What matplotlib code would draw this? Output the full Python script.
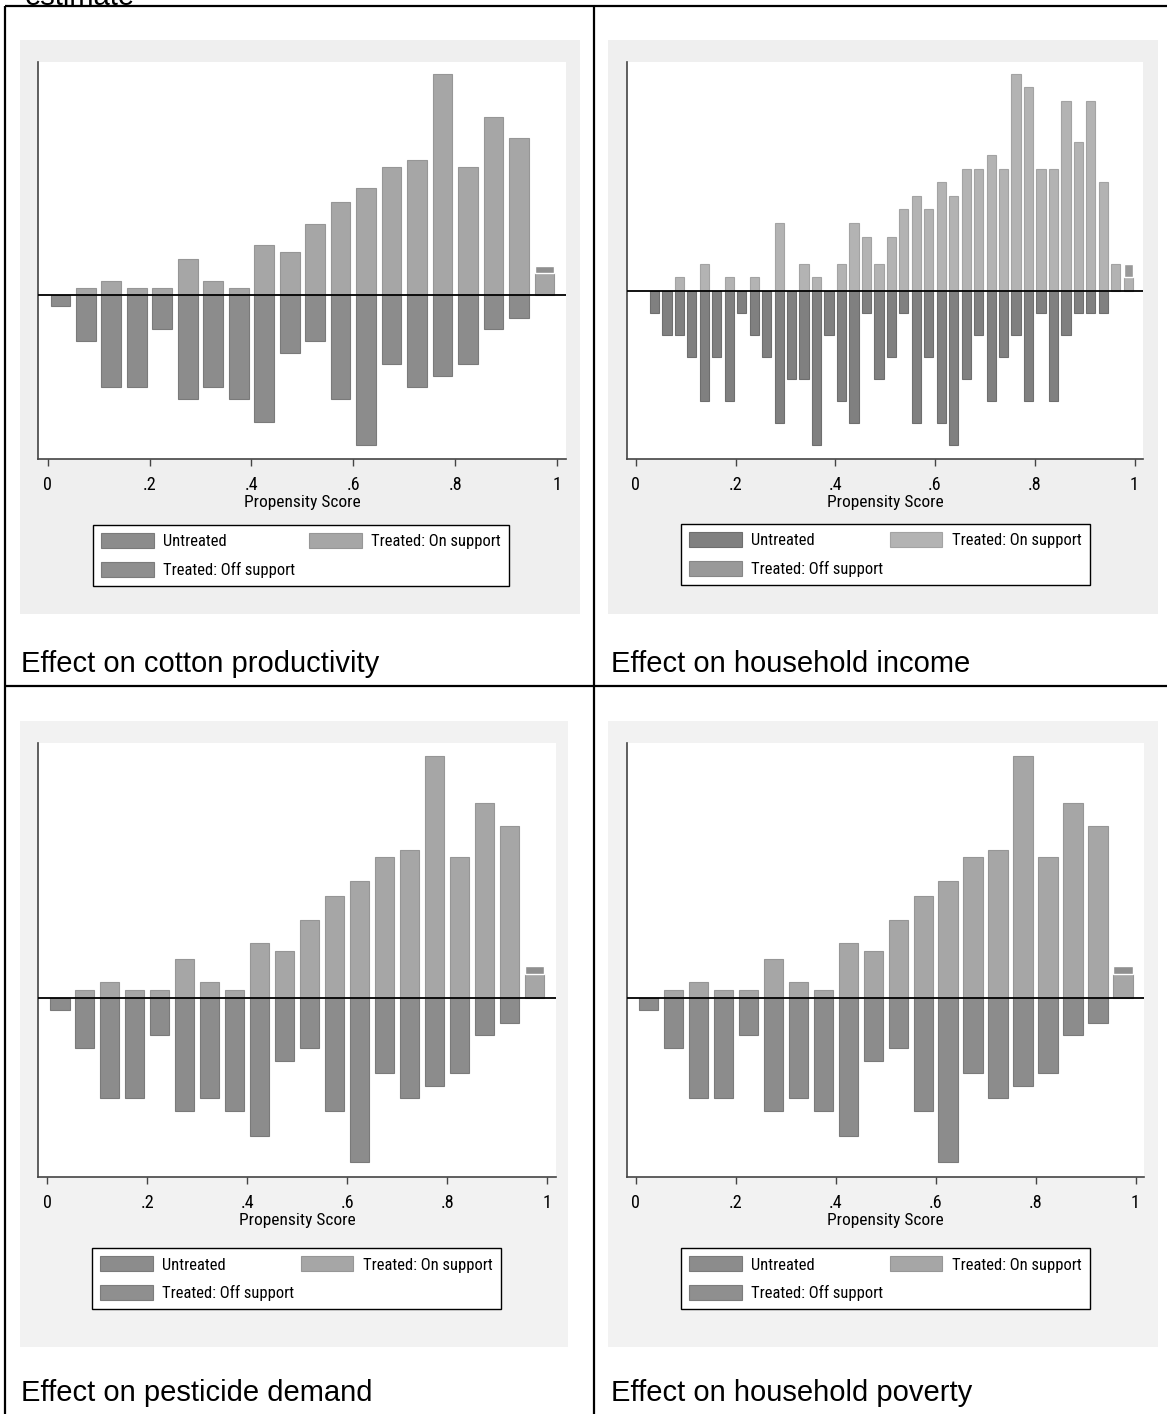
import os
import numpy as np
import matplotlib
matplotlib.use("Agg")
import matplotlib.pyplot as plt
import matplotlib.font_manager as fm
from matplotlib.font_manager import FontProperties
from matplotlib.textpath import TextPath
from matplotlib.patches import Rectangle, Patch
from matplotlib.lines import Line2D

# ---------------- data (counts per propensity-score bin) ----------------
# 20 bins of width 0.05 (cotton productivity, pesticide demand, household poverty)
cotton_untreated = [1, 4, 8, 8, 3, 9, 8, 9, 11, 5, 4, 9, 13, 6, 8, 7, 6, 3, 2, 0]
cotton_treated_on = [0, 1, 2, 1, 1, 5, 2, 1, 7, 6, 10, 13, 15, 18, 19, 31, 18, 25, 22, 3]
cotton_treated_off = [0] * 19 + [1]

pesticide_untreated = [1, 4, 8, 8, 3, 9, 8, 9, 11, 5, 4, 9, 13, 6, 8, 7, 6, 3, 2, 0]
pesticide_treated_on = [0, 1, 2, 1, 1, 5, 2, 1, 7, 6, 10, 13, 15, 18, 19, 31, 18, 25, 22, 3]
pesticide_treated_off = [0] * 19 + [1]

poverty_untreated = [1, 4, 8, 8, 3, 9, 8, 9, 11, 5, 4, 9, 13, 6, 8, 7, 6, 3, 2, 0]
poverty_treated_on = [0, 1, 2, 1, 1, 5, 2, 1, 7, 6, 10, 13, 15, 18, 19, 31, 18, 25, 22, 3]
poverty_treated_off = [0] * 19 + [1]

# 40 bins of width 0.025 (household income)
income_untreated = [0, 1, 2, 2, 3, 5, 3, 5, 1, 2,
                    3, 6, 4, 4, 7, 2, 5, 6, 1, 4,
                    3, 1, 6, 3, 6, 7, 4, 2, 5, 3,
                    2, 5, 1, 5, 2, 1, 1, 1, 0, 0]
income_treated_on = [0, 0, 0, 1, 0, 2, 0, 1, 0, 1,
                     0, 5, 0, 2, 1, 0, 2, 5, 4, 2,
                     4, 6, 7, 6, 8, 7, 9, 9, 10, 9,
                     16, 15, 9, 9, 14, 11, 14, 8, 2, 1]
income_treated_off = [0] * 39 + [1]

tick_values = [0, 0.2, 0.4, 0.6, 0.8, 1.0]
tick_labels = ["0", ".2", ".4", ".6", ".8", "1"]
legend_labels = ["Untreated", "Treated: Off support", "Treated: On support"]
captions = ["Effect on cotton productivity", "Effect on household income",
            "Effect on pesticide demand", "Effect on household poverty"]

# ---------------- fonts ----------------
def pick_narrow():
    cands = []
    bad = ["bold", "italic", "oblique", "light", "thin", "medium", "black",
           "extra", "ultra", "heavy", "mono", "serif"]
    for f in fm.fontManager.ttflist:
        base = os.path.basename(f.fname).lower()
        tag = base + " " + f.name.lower()
        if not ("narrow" in tag or "condensed" in tag or
                f.stretch in ("condensed", "semi-condensed")):
            continue
        if any(b in base for b in bad):
            continue
        if f.style != "normal":
            continue
        if f.weight not in (400, "normal", "regular", "book"):
            continue
        if "liberation" in tag or "arial" in tag:
            rank = 0
        elif "roboto" in tag:
            rank = 1
        elif "noto" in tag:
            rank = 2
        elif "open" in tag:
            rank = 3
        elif "dejavu" in tag:
            rank = 4
        else:
            rank = 5
        if "semi" in tag:
            rank += 0.5
        cands.append((rank, f.fname))
    cands.sort()
    return cands[0][1] if cands else None


W, H = 1167, 1414
DPI = 100
fig = plt.figure(figsize=(W / DPI, H / DPI), dpi=DPI)
fig.patch.set_facecolor("white")

_nf = pick_narrow()
fp_base = FontProperties(fname=_nf) if _nf else FontProperties(family=["Liberation Sans", "DejaVu Sans"])
_renderer = fig.canvas.get_renderer()
_t = fig.text(0, 0, "Propensity Score", fontproperties=fp_base, fontsize=13)
_w = _t.get_window_extent(_renderer).width
_t.remove()
size_w = min(13.5, 13.0 * 110.0 / _w)          # fit the reference text widths
_p = fp_base.copy()
_p.set_size(100)
_dh = TextPath((0, 0), "0", prop=_p).get_extents().height / 100.0   # digit height / em
size_h = min(14.0, 13.3 * 72.0 / DPI / _dh)      # fit the reference digit height
size_lab = min(13.5, (size_w * size_h) ** 0.5)

fp_leg = fp_base.copy()
fp_leg.set_size(size_w)
fp_tick = fp_base.copy()
fp_tick.set_size(size_h)
fp_lab = fp_base.copy()
fp_lab.set_size(size_lab)
leg_px = size_w * DPI / 72.0

REG = ["Liberation Sans", "DejaVu Sans"]
CAP_SIZE = 21


def fx(x):
    return x / W


def fy(y):
    return 1 - y / H


def panel(untreated, on, off, axes_px, grey_px, grey_col, leg_box, cap_px, caption,
          colors, edges_c, barfrac):
    cu, con, coff = colors
    eu, eon, eoff = edges_c
    gx0, gy0, gx1, gy1 = grey_px
    fig.patches.append(Rectangle((fx(gx0), fy(gy1)), (gx1 - gx0) / W, (gy1 - gy0) / H,
                                 transform=fig.transFigure, facecolor=grey_col,
                                 edgecolor="none", zorder=-5))
    x0, y0, x1, y1 = axes_px
    ax = fig.add_axes([fx(x0), fy(y1), (x1 - x0) / W, (y1 - y0) / H])
    ax.set_facecolor("white")

    u = np.array(untreated, float)
    t_on = np.array(on, float)
    t_off = np.array(off, float)
    nb = len(u)
    bw = 1.0 / nb
    edges = np.linspace(0, 1, nb + 1)
    centers = edges[:-1] + bw / 2
    du = u / (u.sum() * bw)
    n_t = t_on.sum() + t_off.sum()
    don = t_on / (n_t * bw)
    doff = t_off / (n_t * bw)

    m = du > 0
    ax.bar(centers[m], -du[m], width=bw * barfrac, color=cu, edgecolor=eu,
           linewidth=0.8, zorder=2)
    m = don > 0
    ax.bar(centers[m], don[m], width=bw * barfrac, color=con, edgecolor=eon,
           linewidth=0.8, zorder=2)
    m = doff > 0
    ax.bar(centers[m], doff[m], bottom=don[m], width=bw * barfrac, color=coff,
           edgecolor="white", linewidth=1.0, zorder=2)
    ax.axhline(0, color="black", lw=1.3, zorder=3)

    ax.set_xlim(-0.018, 1.017)
    ax.set_ylim(-1.096 * du.max(), 1.056 * (don + doff).max())
    ax.set_yticks([])
    ax.set_xticks(tick_values)
    ax.set_xticklabels(tick_labels, fontproperties=fp_tick)
    ax.tick_params(axis="x", length=5, width=1, color="#444444", pad=7)
    for s in ("top", "right"):
        ax.spines[s].set_visible(False)
    for s in ("left", "bottom"):
        ax.spines[s].set_color("#444444")
        ax.spines[s].set_linewidth(1.2)
    ax.set_xlabel("Propensity Score", fontproperties=fp_lab, labelpad=1)

    lx0, ly0, lx1, ly1 = leg_box
    handles = [Patch(facecolor=cu, edgecolor=eu, linewidth=0.8),
               Patch(facecolor=coff, edgecolor=eoff, linewidth=0.8),
               Patch(facecolor=con, edgecolor=eon, linewidth=0.8)]
    leg = ax.legend(handles, legend_labels, ncol=2, mode="expand", loc="upper left",
                    bbox_to_anchor=(fx(lx0), fy(ly1), (lx1 - lx0) / W, (ly1 - ly0) / H),
                    bbox_transform=fig.transFigure, frameon=True, fancybox=False,
                    framealpha=1, edgecolor="black",
                    handlelength=52.7 / leg_px, handleheight=17.0 / leg_px,
                    handletextpad=9.4 / leg_px, borderpad=8.0 / leg_px,
                    labelspacing=12.5 / leg_px, borderaxespad=0,
                    columnspacing=1.0, prop=fp_leg)
    leg.get_frame().set_linewidth(1.0)

    fig.text(fx(cap_px[0]), fy(cap_px[1]), caption, ha="left", va="baseline",
             fontsize=CAP_SIZE, family=REG)
    return ax


col_a = ("#8c8c8c", "#a6a6a6", "#8f8f8f")
edge_a = ("#7a7a7a", "#969696", "#7c7c7c")
col_b = ("#808080", "#b3b3b3", "#999999")
edge_b = ("#6e6e6e", "#a3a3a3", "#878787")

panel(cotton_untreated, cotton_treated_on, cotton_treated_off,
      (38.4, 61.7, 566, 459.3), (20, 40, 580, 614), "#efefef",
      (93, 525, 509, 588), (21, 672), captions[0], col_a, edge_a, 0.77)
panel(income_untreated, income_treated_on, income_treated_off,
      (626.8, 61.7, 1143, 459.3), (608, 40, 1158, 614), "#efefef",
      (681, 524, 1089.5, 588), (611, 672), captions[1], col_b, edge_b, 0.74)
panel(pesticide_untreated, pesticide_treated_on, pesticide_treated_off,
      (38.4, 742.7, 555.5, 1177.3), (19.6, 721, 568, 1347), "#f2f2f2",
      (92.2, 1248.3, 500.6, 1316.7), (21, 1401), captions[2], col_a, edge_a, 0.77)
panel(poverty_untreated, poverty_treated_on, poverty_treated_off,
      (626.8, 742.7, 1144, 1177.3), (608, 721, 1158, 1347), "#f2f2f2",
      (681, 1248.3, 1089.5, 1317.7), (611, 1401), captions[3], col_a, edge_a, 0.77)

# table grid lines
lw_tab = 1.6
for xs, ys in [((5, 5), (6, H)), ((5, W), (6, 6)), ((594, 594), (6, H)), ((5, W), (686, 686))]:
    fig.add_artist(Line2D([fx(xs[0]), fx(xs[1])], [fy(ys[0]), fy(ys[1])],
                          transform=fig.transFigure, color="black", lw=lw_tab,
                          solid_capstyle="butt"))

# cut-off text from the line above the table (only its lower edge is visible)
fig.text(fx(25), fy(5), "estimate", ha="left", va="baseline", fontsize=CAP_SIZE, family=REG)

fig.savefig("out.png", dpi=DPI)
